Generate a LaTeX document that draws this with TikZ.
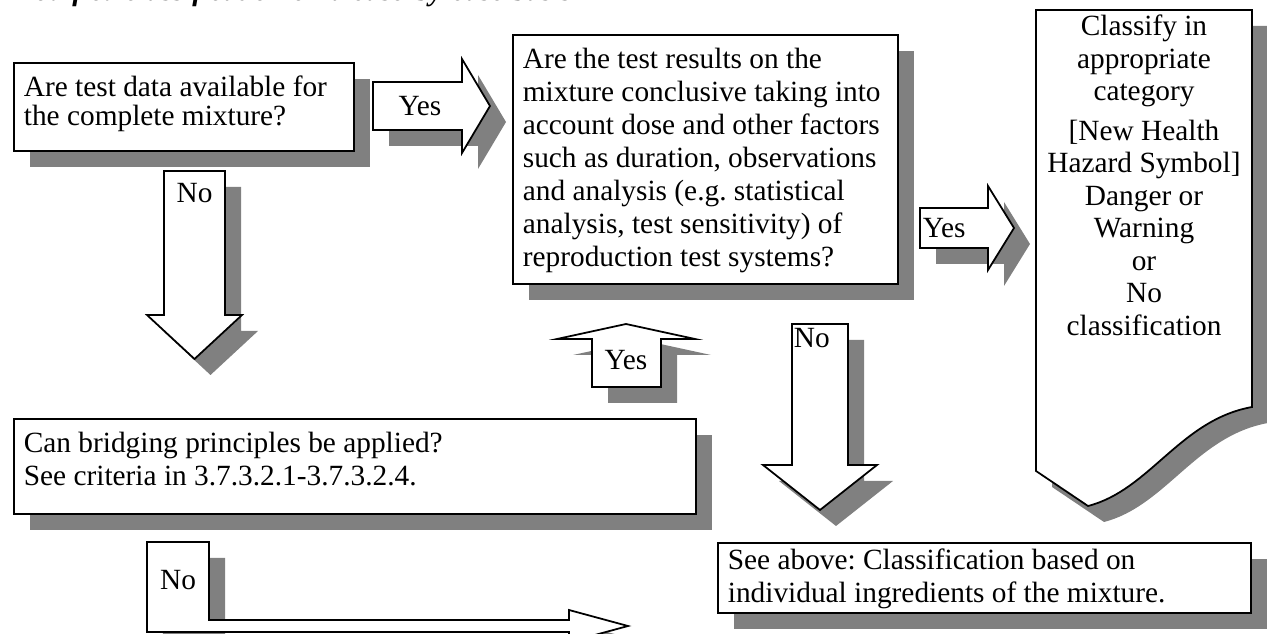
\documentclass[tikz,border=0pt]{standalone}
\usepackage{fontspec}
\setmainfont{Liberation Serif}
\usetikzlibrary{shadows}
\frenchspacing
\newcommand{\boxtext}[3]{\parbox[c][#1][t]{#2}{\raggedright #3}}

\begin{document}
\begin{tikzpicture}[x=0.02cm, y=-0.02cm, every node/.style={font=\fontsize{16.7}{18.8}\selectfont}, line width=1pt, line join=miter, sh/.style={drop shadow={shadow xshift=0.32cm, shadow yshift=-0.32cm, opacity=1, fill=black!50}}, box/.style={draw, fill=white, sh, anchor=north west, inner xsep=0.2cm, inner ysep=0.26cm}, blk/.style={draw, fill=white, sh}, lbl/.style={inner sep=0pt}]
	\useasboundingbox (0,0) rectangle (1267,634);
	\node[anchor=base west, inner sep=0pt, font=\fontsize{16.7}{18.8}\selectfont\bfseries\itshape] (title) at (8,1) {Modified classification on a case-by-case basis};
	\node[box, font=\fontsize{16.7}{16.7}\selectfont] (data) at (13,62) {\boxtext{1.24cm}{6.4cm}{Are test data available for\\the complete mixture?}};
	\node[box] (concl) at (512,34) {\boxtext{4.46cm}{7.3cm}{Are the test results on the\\mixture conclusive taking into\\account dose and other factors\\such as duration, observations\\and analysis (e.g. statistical\\analysis, test sensitivity) of\\reproduction test systems?}};
	\node[box] (bridge) at (13,418) {\boxtext{1.38cm}{13.24cm}{Can bridging principles be applied?\\See criteria in 3.7.3.2.1-3.7.3.2.4.}};
	\node[box, inner ysep=0.12cm] (above) at (717,542) {\boxtext{1.16cm}{10.26cm}{See above: Classification based on\\individual ingredients of the mixture.}};
	\draw[blk] (1036,10) -- (1252,10) -- (1252,407) .. controls (1180,420) and (1150,490) .. (1088,506) -- (1036,471) -- cycle;
	\node[anchor=north, align=center, inner sep=0pt, font=\fontsize{16.7}{18.5}\selectfont] (cls) at (1144,14) {Classify in\\appropriate\\category\\[0.14cm]{[}New Health\\Hazard Symbol{]}\\Danger or\\Warning\\or\\No\\classification};
	\draw[blk] (373,82) -- (462,82) -- (462,59) -- (490,106) -- (462,153) -- (462,130) -- (373,130) -- cycle;
	\draw[blk] (164,171) -- (225,171) -- (225,315) -- (242,315) -- (194.5,359) -- (147,315) -- (164,315) -- cycle;
	\draw[blk] (592,387) -- (592,339) -- (557,339) -- (626,324) -- (695,339) -- (661,339) -- (661,387) -- cycle;
	\draw[blk] (792,324) -- (848,324) -- (848,465) -- (877,465) -- (820,510) -- (763,465) -- (792,465) -- cycle;
	\draw[blk] (920,208) -- (988,208) -- (988,186) -- (1014,228) -- (988,270) -- (988,248) -- (920,248) -- cycle;
	\draw[blk] (147,542) -- (209,542) -- (209,620) -- (569,620) -- (569,610) -- (628,626) -- (569,642) -- (569,632) -- (147,632) -- cycle;
	\node[lbl] (y1) at (420,106) {Yes};
	\node[lbl] (n1) at (194.5,193) {No};
	\node[lbl] (y2) at (626,360) {Yes};
	\node[lbl, anchor=north west] (n2) at (793,327) {No};
	\node[lbl, anchor=west] (y3) at (922,228) {Yes};
	\node[lbl] (n3) at (178,580) {No};
\end{tikzpicture}
\end{document}
